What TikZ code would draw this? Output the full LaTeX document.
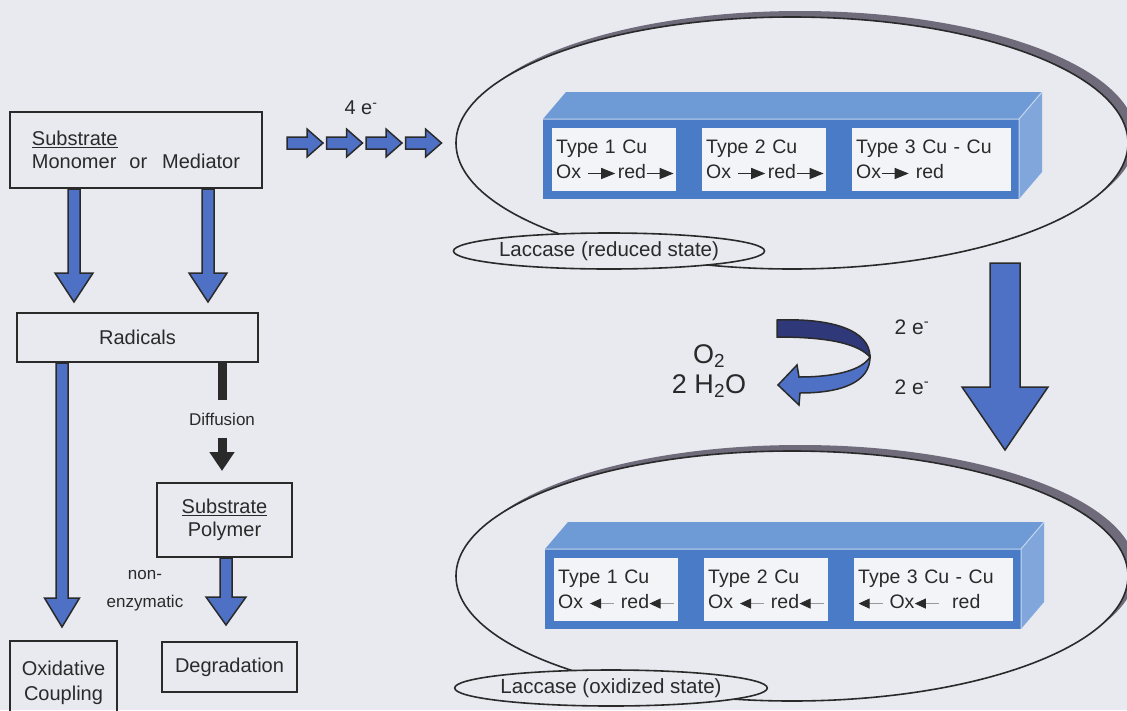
\documentclass[tikz,border=0pt]{standalone}
\usepackage{fontspec}
\setmainfont{Liberation Sans}
\usetikzlibrary{arrows.meta,calc,shapes.geometric}
\definecolor{bgcol}{HTML}{E8EAF0}
\definecolor{arrowblue}{HTML}{4E70C5}
\definecolor{frontblue}{HTML}{4A7BC6}
\definecolor{topblue}{HTML}{6E9AD6}
\definecolor{sideblue}{HTML}{80A6DC}
\definecolor{cuwhite}{HTML}{F3F4F8}
\definecolor{navy}{HTML}{2F3878}
\definecolor{rimgrey}{HTML}{6F6B7A}
\definecolor{ink}{HTML}{2A2A2A}
\newcommand{\fsz}[2]{\fontsize{#1}{#2}\selectfont}
\newcommand{\rarr}{\tikz[baseline=-0.5ex]\draw[ink,line width=1.2pt,-{Triangle[length=14pt,width=11pt]}] (0pt,0pt) -- (27pt,0pt);}
\newcommand{\larr}{\tikz[baseline=-0.5ex]\draw[black!40,line width=0.8pt,{Triangle[length=11pt,width=10pt,color=ink]}-] (0pt,0pt) -- (24pt,0pt);}
\newcommand{\fatarrow}[5]{%
  \path (#2) coordinate (fa-tip) ($(#2)!#5!(#1)$) coordinate (fa-neck);
  \draw[fat] ($(#1)!#3!90:(#2)$) -- ($(fa-neck)!#3!90:(fa-tip)$) -- ($(fa-neck)!#4!90:(fa-tip)$) -- (fa-tip)
    -- ($(fa-neck)!#4!-90:(fa-tip)$) -- ($(fa-neck)!#3!-90:(fa-tip)$) -- ($(#1)!#3!-90:(#2)$) -- cycle;}

\begin{document}
\begin{tikzpicture}[x=1pt, y=1pt, line join=miter, text=ink]
  \tikzstyle{box}=[draw=ink, line width=2pt, inner sep=0pt, align=center, font=\fsz{20}{23}]
  \tikzstyle{fat}=[fill=arrowblue, draw=ink, line width=1.5pt]
  \tikzstyle{blk}=[draw=ink, line width=9pt]
  \tikzstyle{bigell}=[ellipse, draw=ink, fill=bgcol, line width=1.6pt, minimum width=672, minimum height=252, inner sep=0pt]
  \tikzstyle{tag}=[ellipse, draw=ink, line width=1.6pt, fill=bgcol, minimum width=302, minimum height=36, inner sep=0pt, font=\fsz{20.5}{24}]
  \tikzstyle{cu}=[fill=cuwhite, minimum height=63, inner sep=4pt, align=left, anchor=west, font=\fsz{19.5}{25}]
\useasboundingbox (0,0) rectangle (1127,-710);
\clip (0,0) rectangle (1127,-710);
\fill[bgcol] (0,0) rectangle (1127,-710);

% laccase, reduced and oxidized
\fill[rimgrey] (800,-137) ellipse[x radius=336, y radius=126];
\node[bigell] (lred) at (792,-143) {};
\node[tag] (redtag) at (609,-251) {Laccase (reduced state)};
\fill[rimgrey] (800,-570) ellipse[x radius=336, y radius=125];
\node[bigell, minimum height=250] (lox) at (792,-576) {};
\node[tag] (oxtag) at (611,-688) {Laccase (oxidized state)};

\begin{scope}
  \fill[topblue] (543,-119) -- (566,-92) -- (1042,-92) -- (1019,-119) -- cycle;
  \fill[sideblue] (1019,-119) -- (1042,-92) -- (1042,-172) -- (1019,-199) -- cycle;
  \fill[frontblue] (543,-119) rectangle (1019,-199);
  \draw[white!60!topblue, line width=1pt] (543,-119) -- (1019,-119) -- (1042,-92) (1019,-119) -- (1019,-199);
  \node[cu, text width=116] (t1) at (552,-159.5) {Type 1 Cu\\Ox~\rarr\kern2pt red\rarr};
  \node[cu, text width=116] (t2) at (702,-159.5) {Type 2 Cu\\Ox~\rarr\kern2pt red\rarr};
  \node[cu, text width=151] (t3) at (852,-159.5) {Type 3 Cu - Cu\\Ox\rarr~red};
\end{scope}
\begin{scope}[shift={(2,-430)}]
  \fill[topblue] (543,-119) -- (566,-92) -- (1042,-92) -- (1019,-119) -- cycle;
  \fill[sideblue] (1019,-119) -- (1042,-92) -- (1042,-172) -- (1019,-199) -- cycle;
  \fill[frontblue] (543,-119) rectangle (1019,-199);
  \draw[white!60!topblue, line width=1pt] (543,-119) -- (1019,-119) -- (1042,-92) (1019,-119) -- (1019,-199);
  \node[cu, text width=116] (o1) at (552,-159.5) {Type 1 Cu\\Ox~\larr~red\larr};
  \node[cu, text width=116] (o2) at (702,-159.5) {Type 2 Cu\\Ox~\larr~red\larr};
  \node[cu, text width=151] (o3) at (852,-159.5) {Type 3 Cu - Cu\\\larr~Ox\larr~~red};
\end{scope}

% O2 turnover
\filldraw[fill=navy, draw=ink, line width=1.5pt] (777,-320) .. controls (832,-318) and (870,-330) .. (870,-357)
  .. controls (858,-344) and (830,-337) .. (777,-337) -- cycle;
\filldraw[fill=arrowblue, draw=ink, line width=1.5pt] (870,-357) .. controls (870,-382) and (842,-393) .. (800,-393)
  -- (799,-405) -- (778,-385) -- (797,-365) -- (799,-377) .. controls (836,-377) and (862,-370) .. (870,-357) -- cycle;
\node[font=\fsz{27}{30}, align=center] (gas) at (709,-371) {O\textsubscript{2}\\2 H\textsubscript{2}O};
\node[font=\fsz{21}{24}] (ein) at (912,-327) {2 e\textsuperscript{-}};
\node[font=\fsz{21}{24}] (eout) at (912,-387) {2 e\textsuperscript{-}};
\coordinate (bigtop) at (1005,-263);
\coordinate (bigtip) at (1005,-450);
\fatarrow{bigtop}{bigtip}{15pt}{43pt}{63pt}

% substrate side
\node[box, minimum width=252, minimum height=76, align=left] (sub) at (136,-150) {\underline{Substrate}\\Monomer\hspace{13pt}or\hspace{15pt}Mediator};
\node[box, minimum width=241, minimum height=49] (rad) at (137.5,-337.5) {Radicals};
\node[font=\fsz{17}{20}, inner sep=13pt] (dif) at (222,-419) {Diffusion};
\node[box, minimum width=135, minimum height=74] (poly) at (224.5,-520) {\underline{Substrate}\\Polymer};
\node[font=\fsz{17}{28}, align=center] (nonenz) at (145,-591) {non-\\enzymatic};
\node[box, minimum width=107, minimum height=84, font=\fsz{20}{25}] (oxc) at (63.5,-683) {Oxidative\\Coupling};
\node[box, minimum width=135, minimum height=50] (deg) at (229.5,-667) {Degradation};
\node[font=\fsz{20}{24}] (e4) at (361,-108) {4 e\textsuperscript{-}};

\coordinate (tA) at (74,-302);
\coordinate (tB) at (208,-302);
\coordinate (tC) at (62,-627);
\coordinate (tD) at (226,-625);
\fatarrow{sub.south -| tA}{tA}{6pt}{19pt}{29pt}
\fatarrow{sub.south -| tB}{tB}{6pt}{19pt}{29pt}
\fatarrow{rad.south -| tC}{tC}{6pt}{17.5pt}{29pt}
\fatarrow{poly.south -| tD}{tD}{6pt}{20pt}{28pt}
\draw[blk] (rad.south -| dif) -- (dif.north);
\draw[blk, shorten >=11pt, -{Triangle[length=19pt, width=24pt]}] (dif.south) -- (poly.north -| dif);
\foreach \i in {0,...,3}{
  \coordinate (ea) at ({287+39.5*\i},-143);
  \coordinate (eb) at ({323+39.5*\i},-143);
  \fatarrow{ea}{eb}{6pt}{14pt}{16pt}
}
\end{tikzpicture}
\end{document}
